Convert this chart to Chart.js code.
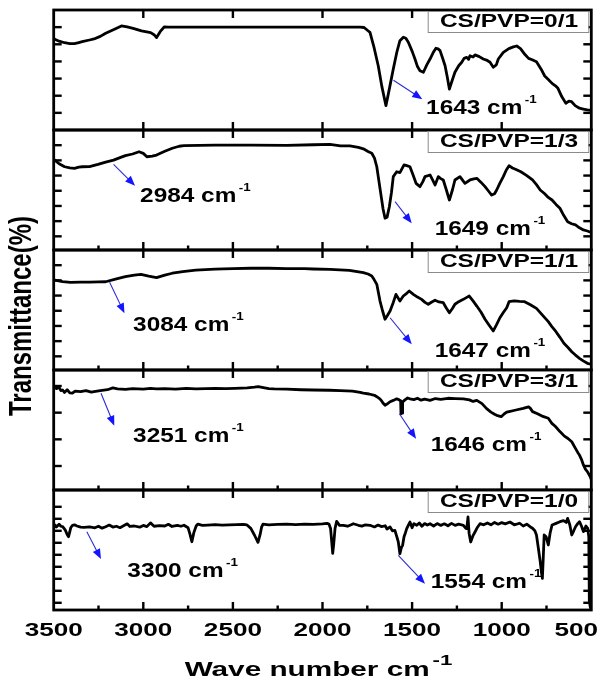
<!DOCTYPE html>
<html><head><meta charset="utf-8">
<script src="https://cdn.jsdelivr.net/npm/chart.js@4/dist/chart.umd.min.js"></script>
<style>html,body{margin:0;padding:0;background:#fff}#wrap{width:614px;height:686px;position:relative}</style>
</head><body><div id="wrap"><canvas id="c" width="614" height="686"></canvas></div>
<script>
// ---- data: [wavenumber (cm-1), transmittance (arb. units)] ----
const spec01 = [[3500,53.5],[3494,52.9],[3470,51.8],[3439,50.9],[3410,50.4],[3384,50.4],[3360,51.0],[3341,51.5],[3300,52.5],[3275,53.1],[3240,54.6],[3210,56.4],[3170,58.3],[3122,60.7],[3090,60.1],[3057,59.3],[3010,57.8],[2959,56.8],[2940,55.6],[2926,53.9],[2905,57.5],[2882,60.2],[2862,60.0],[2700,60.0],[2500,60.0],[2300,60.0],[2100,60.0],[1900,60.0],[1790,60.0],[1768,59.8],[1746,57.9],[1735,57.0],[1712,48.0],[1689,37.5],[1668,25.0],[1646,14.2],[1625,25.0],[1605,35.6],[1585,45.5],[1568,52.1],[1549,54.1],[1535,53.5],[1521,51.2],[1500,46.0],[1484,41.4],[1470,37.0],[1456,34.6],[1437,33.7],[1418,38.0],[1400,41.4],[1383,45.0],[1367,47.7],[1355,47.3],[1344,46.3],[1330,42.0],[1316,37.5],[1304,31.0],[1292,23.9],[1276,29.0],[1261,33.7],[1240,37.5],[1223,39.5],[1210,41.8],[1195,42.4],[1185,41.2],[1177,43.3],[1160,42.6],[1149,43.8],[1125,42.8],[1103,41.4],[1085,40.8],[1065,39.5],[1047,36.6],[1030,38.0],[1019,41.4],[991,45.3],[960,47.5],[935,48.5],[916,49.0],[895,47.5],[870,44.0],[850,41.8],[830,41.0],[806,39.8],[780,35.5],[760,31.5],[740,29.5],[719,27.2],[700,25.8],[686,24.3],[665,19.5],[642,15.6],[625,16.8],[610,16.5],[590,14.2],[566,12.7],[545,12.2],[522,11.7],[500,11.5]];
const spec13 = [[3500,50.5],[3494,50.2],[3470,47.8],[3439,45.8],[3410,45.0],[3384,44.8],[3360,45.6],[3341,45.8],[3300,45.9],[3253,47.4],[3210,48.9],[3166,50.2],[3130,51.8],[3100,53.1],[3060,54.2],[3024,55.7],[3000,54.6],[2980,52.4],[2950,52.8],[2926,53.5],[2880,56.0],[2838,58.0],[2800,59.3],[2773,59.7],[2600,60.0],[2400,60.0],[2200,59.9],[2050,60.3],[1958,60.5],[1900,59.6],[1847,59.5],[1800,58.6],[1772,57.6],[1746,55.9],[1725,54.7],[1710,51.5],[1697,45.8],[1686,37.0],[1675,28.3],[1662,18.0],[1651,11.9],[1640,12.5],[1627,19.5],[1615,29.0],[1605,39.3],[1586,42.5],[1568,41.9],[1545,47.0],[1530,46.5],[1512,45.8],[1495,40.5],[1478,34.9],[1456,32.7],[1440,36.0],[1428,39.3],[1400,40.4],[1385,37.0],[1372,33.8],[1354,39.3],[1340,38.0],[1326,37.1],[1310,31.0],[1292,23.9],[1275,30.5],[1261,37.1],[1233,39.3],[1205,34.9],[1177,37.1],[1155,37.8],[1139,38.2],[1115,35.5],[1093,32.7],[1075,30.0],[1056,27.2],[1040,28.0],[1028,30.5],[1010,35.0],[991,39.3],[975,43.5],[959,46.5],[940,45.0],[920,44.0],[893,42.5],[860,40.0],[828,37.1],[806,34.0],[785,30.5],[760,28.0],[740,25.6],[719,23.9],[697,21.0],[675,18.5],[655,14.0],[632,9.6],[610,8.3],[588,7.5],[566,5.6],[544,4.2],[522,3.5],[511,3.0],[500,2.8]];
const spec11 = [[3500,50.0],[3494,50.2],[3450,49.2],[3406,48.7],[3350,48.8],[3300,48.9],[3250,49.0],[3210,49.1],[3150,51.0],[3100,52.4],[3050,53.5],[3013,54.0],[2970,52.8],[2926,51.8],[2880,53.5],[2838,54.7],[2780,55.8],[2707,56.8],[2600,57.4],[2500,57.8],[2401,58.0],[2300,58.0],[2200,57.8],[2100,57.7],[2052,57.5],[1958,57.3],[1850,56.6],[1772,55.1],[1746,54.2],[1725,52.9],[1712,50.5],[1697,47.4],[1679,36.4],[1665,30.0],[1651,24.4],[1637,27.0],[1623,29.8],[1605,35.5],[1590,40.8],[1568,36.4],[1549,39.7],[1530,41.5],[1516,43.0],[1493,40.8],[1470,39.0],[1447,37.5],[1428,35.5],[1410,34.3],[1390,35.8],[1372,36.9],[1350,35.8],[1326,35.3],[1310,32.0],[1292,28.7],[1275,31.5],[1261,34.3],[1240,36.0],[1214,37.5],[1195,38.8],[1181,39.7],[1160,36.5],[1139,33.1],[1115,29.0],[1093,24.4],[1070,20.5],[1047,16.7],[1030,20.5],[1010,25.4],[990,29.0],[972,32.0],[959,36.0],[930,36.5],[900,36.2],[872,36.0],[840,34.0],[806,31.6],[775,27.5],[740,22.8],[720,19.6],[697,16.2],[675,12.5],[653,8.6],[630,5.8],[609,3.0],[590,1.0],[566,-1.3],[545,-3.0],[522,-4.6],[510,-5.0],[500,-5.2]];
const spec31 = [[3500,29.9],[3494,29.7],[3485,29.0],[3470,29.5],[3460,28.3],[3450,28.5],[3440,27.6],[3425,28.6],[3410,27.4],[3396,27.3],[3380,28.1],[3350,27.9],[3320,28.3],[3290,27.7],[3275,27.9],[3240,28.3],[3200,28.6],[3170,29.3],[3144,28.9],[3100,28.7],[3060,29.0],[3000,28.8],[2960,29.1],[2926,28.9],[2880,29.0],[2820,28.8],[2760,29.1],[2707,28.9],[2650,29.0],[2600,29.1],[2540,29.0],[2489,29.1],[2420,29.3],[2380,29.6],[2358,29.8],[2330,29.4],[2300,29.0],[2270,28.9],[2200,28.8],[2120,28.6],[2052,28.5],[1960,28.4],[1900,28.3],[1833,28.1],[1790,27.6],[1772,27.3],[1740,27.0],[1710,26.5],[1697,26.0],[1680,25.2],[1670,24.4],[1660,23.4],[1651,22.8],[1640,23.2],[1623,24.1],[1605,24.6],[1586,25.2],[1572,24.8],[1564,24.4],[1562,19.6],[1559,23.0],[1556,19.8],[1553,24.0],[1540,24.8],[1525,25.5],[1512,25.2],[1490,24.9],[1470,25.4],[1450,24.7],[1430,25.1],[1400,24.6],[1370,25.3],[1340,25.0],[1300,25.4],[1260,25.3],[1214,25.2],[1180,24.8],[1160,24.2],[1139,24.6],[1110,23.4],[1084,21.5],[1060,20.2],[1040,19.4],[1028,19.0],[1003,18.5],[985,19.6],[972,20.2],[959,20.4],[920,21.0],[880,21.6],[850,22.2],[840,21.6],[828,20.4],[800,19.6],[770,18.6],[740,17.9],[720,16.0],[700,14.8],[675,12.9],[650,11.2],[630,10.3],[609,9.1],[590,6.8],[575,5.0],[566,4.1],[555,2.5],[544,0.4],[533,-1.2],[522,-2.1],[511,-3.4],[505,-4.2],[500,-5.0]];
const spec10 = [[3500,62.0],[3494,65.0],[3485,63.2],[3470,65.5],[3460,63.8],[3450,63.4],[3435,60.5],[3425,57.0],[3417,55.1],[3405,62.5],[3395,64.6],[3384,65.0],[3370,64.0],[3350,63.0],[3330,62.8],[3300,63.2],[3270,62.5],[3250,63.8],[3230,62.2],[3210,63.4],[3190,64.8],[3170,63.1],[3150,63.8],[3130,62.6],[3110,64.2],[3090,65.8],[3075,63.6],[3050,64.0],[3020,63.0],[3000,64.5],[2980,63.5],[2960,66.6],[2940,63.8],[2910,64.3],[2880,64.0],[2860,65.4],[2840,63.6],[2810,64.5],[2790,63.8],[2773,64.6],[2750,62.5],[2740,57.5],[2729,50.9],[2718,58.5],[2705,64.0],[2696,65.6],[2670,64.5],[2640,64.8],[2600,65.1],[2560,64.7],[2520,65.0],[2480,65.2],[2440,65.4],[2423,65.0],[2400,62.0],[2380,56.5],[2360,50.4],[2348,57.0],[2340,63.0],[2332,65.6],[2300,65.0],[2250,65.3],[2200,65.6],[2150,65.2],[2100,65.5],[2050,65.3],[2000,65.8],[1975,66.2],[1964,65.6],[1955,62.0],[1948,50.0],[1943,41.2],[1938,48.0],[1930,62.0],[1921,67.8],[1905,64.5],[1884,64.6],[1860,63.8],[1840,65.0],[1828,65.9],[1800,64.6],[1780,63.9],[1760,65.0],[1735,64.6],[1710,63.2],[1690,64.8],[1670,63.5],[1650,64.2],[1640,61.5],[1623,63.2],[1610,60.0],[1596,60.4],[1585,55.0],[1577,50.7],[1568,40.9],[1560,46.0],[1553,47.9],[1545,55.0],[1538,58.0],[1530,61.8],[1520,65.0],[1512,67.3],[1500,62.5],[1490,66.0],[1474,64.6],[1460,66.5],[1445,63.8],[1430,66.0],[1415,64.8],[1400,65.9],[1380,64.0],[1360,66.0],[1340,64.5],[1320,65.8],[1300,64.2],[1280,66.2],[1260,64.5],[1240,65.5],[1214,64.6],[1200,62.0],[1195,61.8],[1188,71.5],[1182,58.0],[1173,50.7],[1160,56.0],[1149,59.0],[1135,63.0],[1121,65.9],[1100,65.0],[1080,66.5],[1060,65.0],[1040,67.0],[1020,65.5],[1000,66.8],[980,65.8],[954,67.3],[930,65.0],[900,66.3],[880,64.0],[860,65.5],[840,63.2],[828,62.1],[815,60.0],[806,56.5],[795,45.0],[785,34.3],[778,25.0],[773,20.4],[768,38.0],[763,56.5],[752,55.0],[740,48.2],[730,58.0],[719,64.8],[700,66.0],[675,67.6],[655,68.5],[640,67.0],[632,70.4],[620,65.0],[609,56.5],[598,60.0],[588,63.4],[576,66.0],[566,67.6],[555,64.0],[544,59.3],[530,64.0],[520,62.0],[514,55.0],[511,0.9],[505,-4.0],[500,-6.0]];

const panelLabels = ['CS/PVP=0/1','CS/PVP=1/3','CS/PVP=1/1','CS/PVP=3/1','CS/PVP=1/0'];
const panelSeries = [spec01, spec13, spec11, spec31, spec10];
const panelMin = [0, -9, -9, -9, -6];
const panelMax = [70, 70, 70, 36, 94];
const xTickValues = [3500, 3000, 2500, 2000, 1500, 1000, 500];
const xTickLabels = ['3500','3000','2500','2000','1500','1000','500'];
const xMinorValues = [3250, 2750, 2250, 1750, 1250, 750];
const xTitle = 'Wave number cm';
const yTitle = 'Transmittance(%)';
// peak annotations: panel index, arrow start/end and label anchor in data units
const peakNotes = [
  {p:0, from:[1604,29.0], to:[1443,18.0], at:[1422,12.5], text:'1643 cm'},
  {p:1, from:[3166,47.4], to:[3046,33.3], at:[3018,26.2], text:'2984 cm'},
  {p:1, from:[1595,22.8], to:[1502,8.6],  at:[1374,4.2],  text:'1649 cm'},
  {p:2, from:[3188,48.7], to:[3105,28.3], at:[3057,20.2], text:'3084 cm'},
  {p:2, from:[1623,25.4], to:[1502,7.9],  at:[1374,3.0],  text:'1647 cm'},
  {p:3, from:[3236,27.3], to:[3162,15.1], at:[3057,11.0], text:'3251 cm'},
  {p:3, from:[1571,19.6], to:[1478,10.2], at:[1396,7.5],  text:'1646 cm'},
  {p:4, from:[3315,59.3], to:[3236,36.5], at:[3089,25.7], text:'3300 cm'},
  {p:4, from:[1577,39.6], to:[1428,15.9], at:[1396,16.5], text:'1554 cm'}
];

const FONT = "'Liberation Sans', Arial, Helvetica, sans-serif";
const yIds = ['y1','y2','y3','y4','y5'];

function sText(ctx, txt, x, y, size, sx, align, sup, supScale, supRise) {
  ctx.save();
  ctx.font = 'bold ' + size + 'px ' + FONT;
  const w = ctx.measureText(txt).width;
  let sw = 0; const ss = size * (supScale || 0.6);
  if (sup) { ctx.font = 'bold ' + ss + 'px ' + FONT; sw = ctx.measureText(sup).width + 2; }
  const total = (w + sw) * sx;
  let x0 = x;
  if (align === 'center') x0 = x - total / 2; else if (align === 'right') x0 = x - total;
  ctx.translate(x0, y); ctx.scale(sx, 1);
  ctx.fillStyle = '#000'; ctx.textAlign = 'left'; ctx.textBaseline = 'middle';
  ctx.font = 'bold ' + size + 'px ' + FONT;
  ctx.fillText(txt, 0, 0);
  if (sup) { ctx.font = 'bold ' + ss + 'px ' + FONT; ctx.fillText(sup, w + 2, -size * (supRise || 0.42)); }
  ctx.restore();
  return total;
}

function arrow(ctx, x1, y1, x2, y2) {
  const ang = Math.atan2(y2 - y1, x2 - x1), L = 10, H = 4;
  ctx.save();
  ctx.setLineDash([]);
  ctx.strokeStyle = '#2b2bd9'; ctx.fillStyle = '#1414ff'; ctx.lineWidth = 1.1;
  ctx.beginPath(); ctx.moveTo(x1, y1);
  ctx.lineTo(x2 - L * Math.cos(ang) * 0.8, y2 - L * Math.sin(ang) * 0.8); ctx.stroke();
  ctx.beginPath(); ctx.moveTo(x2, y2);
  ctx.lineTo(x2 - L * Math.cos(ang) + H * Math.sin(ang), y2 - L * Math.sin(ang) - H * Math.cos(ang));
  ctx.lineTo(x2 - L * Math.cos(ang) - H * Math.sin(ang), y2 - L * Math.sin(ang) + H * Math.cos(ang));
  ctx.closePath(); ctx.fill();
  ctx.restore();
}

const framePlugin = {
  id: 'frames',
  afterDraw(chart) {
    const ctx = chart.ctx, xs = chart.scales.x;
    const L = xs.left, R = xs.right;
    ctx.save();
    ctx.setLineDash([]);
    yIds.forEach((id, i) => {
      const ys = chart.scales[id];
      const T = ys.top, B = ys.bottom;
      ctx.fillStyle = '#000';
      // y ticks (inward, both sides)
      for (let v = Math.ceil(panelMin[i] / 10) * 10; v < panelMax[i]; v += 10) {
        if (v <= panelMin[i]) continue;
        const py = ys.getPixelForValue(v);
        if (py < T + 5 || py > B - 5) continue;
        ctx.fillRect(L, py - 1.2, 8, 2.4);
        ctx.fillRect(R - 8, py - 1.2, 8, 2.4);
      }
      // x ticks (inward, top and bottom of every panel)
      xTickValues.forEach(v => {
        if (v === 3500 || v === 500) return;
        const px = xs.getPixelForValue(v);
        ctx.fillRect(px - 1.2, T, 2.4, 8);
        ctx.fillRect(px - 1.2, B - 8, 2.4, 8);
      });
      if (i > 0) xMinorValues.forEach(v => {
        const px = xs.getPixelForValue(v);
        ctx.fillRect(px - 1.2, B - 4.5, 2.4, 4.5);
      });
      // frame
      ctx.strokeStyle = '#000';
      ctx.lineWidth = 2.8;
      ctx.strokeRect(L, T, R - L, B - T);
      // legend box
      const bx = xs.getPixelForValue(1413), bw = R - 3 - bx;
      ctx.fillStyle = '#fff'; ctx.fillRect(bx, T + 1.5, bw, 21);
      ctx.strokeStyle = '#8a8a8a'; ctx.lineWidth = 1;
      ctx.strokeRect(bx + 0.5, T + 1.5, bw, 21);
      sText(ctx, panelLabels[i], bx + bw / 2 + 1, T + 12.5, 18, 1.36, 'center');
    });
    // annotations
    peakNotes.forEach(n => {
      const ys = chart.scales[yIds[n.p]];
      arrow(ctx, xs.getPixelForValue(n.from[0]), ys.getPixelForValue(n.from[1]),
                 xs.getPixelForValue(n.to[0]), ys.getPixelForValue(n.to[1]));
      sText(ctx, n.text, xs.getPixelForValue(n.at[0]), ys.getPixelForValue(n.at[1]), 19.5, 1.25, 'left', '-1', 0.55, 0.45);
    });
    // x tick labels
    xTickValues.forEach((v, k) => {
      let px = xs.getPixelForValue(v);
      ctx.save();
      ctx.font = 'bold 18px ' + FONT;
      const w = ctx.measureText(xTickLabels[k]).width * 1.45;
      ctx.restore();
      if (px + w / 2 > 598) px = 598 - w / 2;
      sText(ctx, xTickLabels[k], px, 631, 18, 1.45, 'center');
    });
    // x title
    sText(ctx, xTitle, (L + R) / 2 - 4, 670, 20.5, 1.45, 'center', '-1', 0.75, 0.45);
    // y title
    ctx.save();
    ctx.translate(22, 316); ctx.rotate(-Math.PI / 2); ctx.scale(1, 1.3);
    ctx.font = 'bold 24px ' + FONT; ctx.fillStyle = '#000';
    ctx.textAlign = 'center'; ctx.textBaseline = 'middle';
    ctx.fillText(yTitle, 0, 0);
    ctx.restore();
    ctx.restore();
  }
};

const scales = {
  x: {
    type: 'linear', reverse: true, min: 500, max: 3500, position: 'bottom',
    ticks: { display: false, stepSize: 500 },
    grid: { display: false }, border: { display: false },
    afterFit: s => { s.height = 76; }
  }
};
yIds.forEach((id, i) => {
  scales[id] = {
    type: 'linear', position: 'left', stack: 'panels', stackWeight: 1, weight: 5 - i,
    min: panelMin[i], max: panelMax[i],
    ticks: { display: false, stepSize: 10 },
    grid: { display: false }, border: { display: false },
    afterFit: s => { s.width = 0; }
  };
});

new Chart(document.getElementById('c'), {
  type: 'line',
  data: {
    datasets: panelSeries.map((s, i) => ({
      label: panelLabels[i],
      data: s.map(p => ({ x: p[0], y: p[1] })),
      yAxisID: yIds[i],
      borderColor: '#000', borderWidth: 2.8, pointRadius: 0,
      tension: 0, fill: false, borderJoinStyle: 'round', borderCapStyle: 'round'
    }))
  },
  options: {
    responsive: false, animation: false, devicePixelRatio: 1,
    layout: { padding: { left: 53.7, right: 22.7, top: 10, bottom: 0 } },
    plugins: { legend: { display: false }, tooltip: { enabled: false } },
    scales: scales
  },
  plugins: [framePlugin]
});
</script></body></html>
